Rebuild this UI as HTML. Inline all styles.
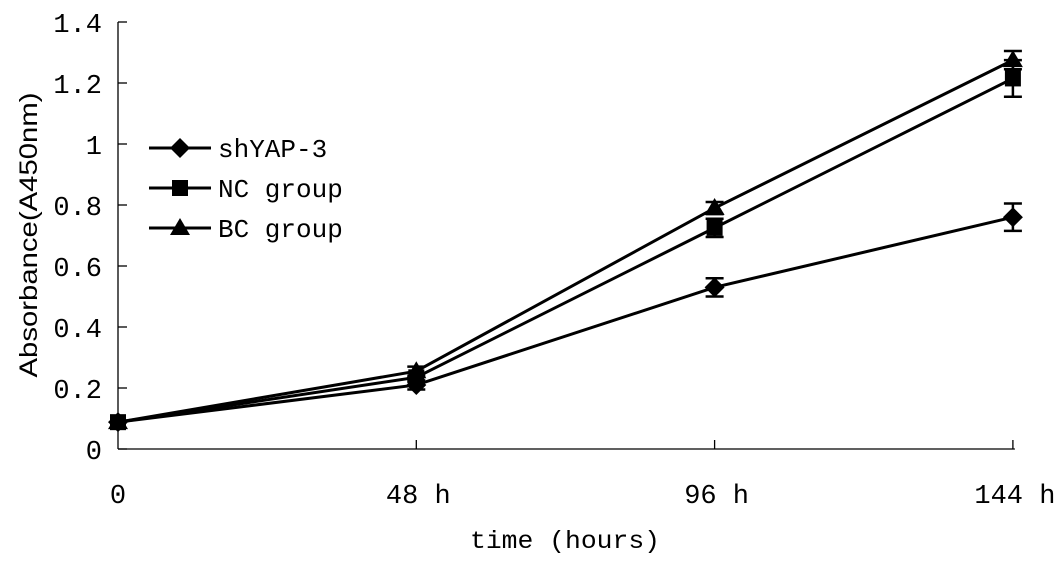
<!DOCTYPE html>
<html><head><meta charset="utf-8"><style>
html,body{margin:0;padding:0;background:#fff;}
svg{display:block;}
text{fill:#000;}
</style></head><body>
<svg id="chart" width="1063" height="562" xmlns="http://www.w3.org/2000/svg"></svg>
<script>
const categories = ["0", "48 h", "96 h", "144 h"];
const yTicks = [0, 0.2, 0.4, 0.6, 0.8, 1, 1.2, 1.4];
const yTickLabels = ["0", "0.2", "0.4", "0.6", "0.8", "1", "1.2", "1.4"];
const seriesNames = ["shYAP-3", "NC group", "BC group"];
const shYAP = [0.088, 0.21, 0.53, 0.76];
const ncGroup = [0.088, 0.235, 0.725, 1.215];
const bcGroup = [0.088, 0.255, 0.79, 1.275];
const shYAPErr = [0.005, 0.015, 0.03, 0.045];
const ncErr = [0.005, 0.015, 0.03, 0.06];
const bcErr = [0.005, 0.015, 0.02, 0.03];

const NS = "http://www.w3.org/2000/svg";
const svg = document.getElementById("chart");
const X0 = 118, XSTEP = 298.3, Y0 = 449, YTOP = 22, YMAX = 1.4;
function xs(i){ return X0 + i * XSTEP; }
function ys(v){ return Y0 - (v / YMAX) * (Y0 - YTOP); }
function mk(tag, attrs, parent){
  const e = document.createElementNS(NS, tag);
  for (const k in attrs) e.setAttribute(k, attrs[k]);
  (parent || svg).appendChild(e);
  return e;
}
const FONT = '"Liberation Mono", monospace';

const yAxis = mk("line", {x1:X0, y1:YTOP, x2:X0, y2:Y0, stroke:"#000", "stroke-width":1.3});


const xAxis = mk("line", {x1:X0, y1:Y0, x2:xs(3)+2, y2:Y0, stroke:"#000", "stroke-width":1.3});



yTicks.forEach((v, i) => {
  mk("line", {x1:X0, y1:ys(v), x2:X0+9, y2:ys(v), stroke:"#000", "stroke-width":1.3});
  const t = mk("text", {x:X0-16, y:ys(v)+10, "text-anchor":"end", "font-family":FONT, "font-size":27});
  t.textContent = yTickLabels[i];
  
  
});
categories.forEach((c, i) => {
  if (i > 0) mk("line", {x1:xs(i), y1:Y0, x2:xs(i), y2:Y0-9, stroke:"#000", "stroke-width":1.3});
  const t = mk("text", {x:xs(i)+(i>0?2:0), y:503, "text-anchor":"middle", "font-family":FONT, "font-size":27});
  t.textContent = c;
  
  
});

const yt = mk("text", {x:0, y:0, transform:"translate(37,235) rotate(-90)", "text-anchor":"middle", "font-family":'"Liberation Sans", sans-serif', "font-size":25, textLength:285, lengthAdjust:"spacingAndGlyphs"});
yt.textContent = "Absorbance(A450nm)";


const xt = mk("text", {x:470, y:548, "font-family":FONT, "font-size":25, textLength:190, lengthAdjust:"spacingAndGlyphs"});
xt.textContent = "time (hours)";



function marker(shape, x, y, g){
  if (shape === 0) return mk("polygon", {points:`${x},${y-10} ${x+10},${y} ${x},${y+10} ${x-10},${y}`, fill:"#000"}, g);
  if (shape === 1) return mk("rect", {x:x-8, y:y-8, width:16, height:16, fill:"#000"}, g);
  return mk("polygon", {points:`${x},${y-10} ${x+10},${y+7} ${x-10},${y+7}`, fill:"#000"}, g);
}

const allSeries = [shYAP, ncGroup, bcGroup];
const allErr = [shYAPErr, ncErr, bcErr];
allSeries.forEach((vals, s) => {
  const g = mk("g", {});
  
  
  mk("polyline", {points: vals.map((v,i)=>xs(i)+","+ys(v)).join(" "), fill:"none", stroke:"#000", "stroke-width":3}, g);
  vals.forEach((v, i) => {
    const e = allErr[s][i];
    if (i > 0) {
      const t = ys(v+e), b = ys(v-e);
      mk("line", {x1:xs(i), y1:t, x2:xs(i), y2:b, stroke:"#000", "stroke-width":2.5}, g);
      mk("line", {x1:xs(i)-9, y1:t, x2:xs(i)+9, y2:t, stroke:"#000", "stroke-width":2.5}, g);
      mk("line", {x1:xs(i)-9, y1:b, x2:xs(i)+9, y2:b, stroke:"#000", "stroke-width":2.5}, g);
    }
    const m = marker(s, xs(i), ys(v), g);
    
    
  });
});

const legY = [148, 188, 228];
seriesNames.forEach((n, s) => {
  const g = mk("g", {});
  
  
  mk("line", {x1:149, y1:legY[s], x2:211, y2:legY[s], stroke:"#000", "stroke-width":3}, g);
  marker(s, 180, legY[s], g);
  const t = mk("text", {x:218, y:legY[s]+9, "font-family":FONT, "font-size":26}, g);
  t.textContent = n;
});
</script>
</body></html>
